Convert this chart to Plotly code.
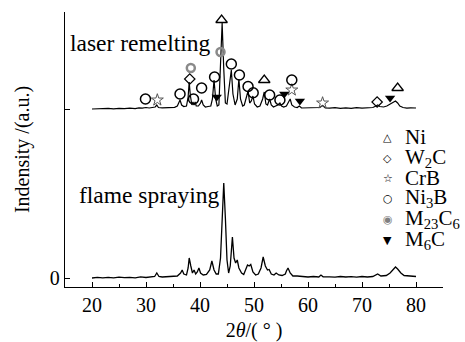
import plotly.graph_objects as go

# ---- data ----
flame_x = [20.0, 21.0, 22.0, 23.0, 24.0, 25.0, 26.0, 27.0, 28.0, 29.0, 30.0, 31.0, 31.6, 32.0, 32.4,
           33.0, 34.0, 35.0, 35.8, 36.4, 36.7, 37.0, 37.5, 37.8, 38.0, 38.3, 38.6, 38.9, 39.2, 39.5,
           39.8, 40.1, 40.6, 41.2, 41.8, 42.2, 42.6, 43.0, 43.4, 43.8, 44.1, 44.4, 44.7, 45.0, 45.3,
           45.6, 46.0, 46.3, 46.6, 46.9, 47.2, 47.7, 48.1, 48.5, 48.8, 49.1, 49.4, 49.8, 50.3, 50.8,
           51.3, 51.7, 52.1, 52.5, 52.8, 53.2, 53.7, 54.1, 54.6, 55.2, 55.8, 56.0, 56.3, 56.7, 57.2,
           58.0, 59.0, 60.0, 61.0, 62.0, 62.4, 62.8, 64.0, 65.0, 66.0, 67.0, 68.0, 69.0, 70.0, 71.0,
           72.0, 72.9, 73.5, 74.5, 75.2, 75.8, 76.2, 76.6, 77.2, 77.8, 78.5, 79.2, 80.0]
flame_y = [0.0, 0.6, 0.1, 0.7, 0.2, 0.9, 0.3, 0.7, 0.2, 1.1, 0.5, 1.1, 1.5, 5.0, 1.5,
           1.0, 1.3, 1.6, 2.0, 5.0, 8.0, 4.0, 3.0, 10.0, 20.0, 12.0, 5.0, 8.0, 4.0, 6.0,
           10.0, 5.0, 3.0, 3.5, 8.0, 17.0, 8.0, 4.0, 4.0, 20.0, 60.0, 95.0, 60.0, 18.0, 5.0,
           12.0, 41.0, 20.0, 15.0, 18.0, 10.0, 5.0, 3.5, 8.0, 13.0, 12.0, 13.5, 6.0, 3.0, 4.0,
           10.0, 21.0, 12.0, 8.0, 8.5, 4.0, 3.0, 5.0, 3.0, 2.5, 4.0, 7.0, 10.0, 5.0, 2.0,
           2.0, 1.5, 1.0, 1.5, 1.0, 3.0, 1.2, 1.2, 0.8, 1.5, 1.0, 1.3, 0.8, 1.5, 1.0,
           1.5, 4.0, 2.0, 2.5, 5.0, 9.0, 11.0, 9.0, 5.0, 2.5, 2.0, 1.5, 1.5]

laser_x = [20.0, 21.0, 22.0, 23.0, 24.0, 25.0, 26.0, 27.0, 28.0, 28.7, 29.3, 30.0, 30.6, 31.2, 31.7,
           32.0, 32.3, 33.0, 33.8, 34.6, 35.3, 35.8, 36.1, 36.3, 36.6, 37.0, 37.5, 37.8, 38.0, 38.2,
           38.5, 38.7, 38.9, 39.1, 39.3, 39.7, 40.1, 40.3, 40.6, 41.0, 41.5, 42.0, 42.3, 42.6, 42.9,
           43.2, 43.5, 43.8, 44.1, 44.4, 44.7, 45.0, 45.4, 45.8, 46.1, 46.5, 46.9, 47.2, 47.5, 47.9,
           48.2, 48.6, 48.9, 49.2, 49.5, 49.8, 50.1, 50.6, 51.1, 51.6, 51.9, 52.2, 52.5, 52.9, 53.2,
           53.6, 54.0, 54.4, 54.8, 55.1, 55.5, 56.0, 56.4, 56.7, 57.0, 57.5, 58.0, 58.4, 58.8, 59.5,
           60.5, 61.5, 62.2, 62.7, 63.2, 64.0, 65.0, 66.0, 67.0, 68.0, 69.0, 70.0, 71.0, 72.0, 72.6,
           72.9, 73.3, 74.0, 74.6, 75.2, 75.8, 76.2, 76.6, 77.0, 77.6, 78.3, 79.0, 80.0]
laser_y = [0.0, 0.4, 0.1, 0.6, 0.2, 0.7, 0.3, 0.9, 0.4, 1.2, 0.8, 1.5, 1.0, 1.2, 2.0,
           4.0, 1.5, 1.2, 1.4, 1.0, 1.6, 3.0, 7.0, 9.0, 4.0, 2.5, 3.0, 12.0, 27.0, 14.0,
           4.0, 7.0, 4.0, 7.0, 3.0, 3.0, 6.0, 9.0, 4.0, 2.0, 2.5, 3.0, 10.0, 29.0, 10.0,
           3.0, 4.0, 40.0, 86.0, 40.0, 6.0, 5.0, 20.0, 39.0, 15.0, 4.0, 10.0, 30.0, 10.0, 3.0,
           4.0, 12.0, 18.0, 6.0, 8.0, 13.0, 5.0, 2.0, 3.0, 10.0, 17.0, 5.0, 4.0, 10.0, 4.0,
           2.0, 3.0, 4.0, 6.0, 3.0, 2.0, 3.0, 7.0, 10.0, 4.0, 2.0, 1.5, 3.0, 1.0, 1.2,
           0.8, 1.3, 1.5, 3.5, 1.2, 0.8, 1.3, 0.6, 1.2, 0.7, 1.4, 0.8, 1.3, 1.5, 3.0,
           4.0, 2.5, 2.0, 3.0, 5.0, 7.0, 8.0, 6.0, 3.0, 1.5, 0.8, 1.2, 1.0]

LASER_OFFSET = 169

# phase markers on the laser-remelting pattern (2theta, plotted height)
ni_x = [44.0, 51.9, 76.6]
ni_y = [258, 198, 190]
w2c_x = [38.1, 72.8]
w2c_y = [199, 176]
crb_x = [32.1, 57.0, 62.7]
crb_y = [178, 188, 175]
ni3b_x = [29.9, 36.3, 38.8, 40.3, 42.7, 45.8, 47.3, 48.9, 49.85, 52.9, 54.8, 57.0]
ni3b_y = [179, 184, 179, 190, 201, 214, 203, 191.5, 185.3, 183, 178, 198]
m23c6_x = [38.3, 43.8]
m23c6_y = [210, 226]
m6c_x = [43.1, 55.6, 58.5, 75.2]
m6c_y = [181, 184, 177, 180]

x_ticks = [20, 30, 40, 50, 60, 70, 80]
y_ticks = [0, LASER_OFFSET]
y_ticklabels = ["0", " "]

legend_names = ["Ni", "W<sub>2</sub>C", "CrB", "Ni<sub>3</sub>B", "M<sub>23</sub>C<sub>6</sub>", "M<sub>6</sub>C"]
legend_glyphs = ["△", "◇", "☆", "○", "◉", "▼"]
legend_glyph_colors = ["black", "black", "black", "black", "#808080", "black"]

FONT = "Liberation Serif"

fig = go.Figure()
fig.add_trace(go.Scatter(x=flame_x, y=flame_y, mode="lines",
                         line=dict(color="black", width=1.3), showlegend=False))
fig.add_trace(go.Scatter(x=laser_x, y=[v + LASER_OFFSET for v in laser_y], mode="lines",
                         line=dict(color="black", width=1.2), showlegend=False))

mk = dict(mode="markers", showlegend=False)
fig.add_trace(go.Scatter(x=ni_x, y=ni_y, marker=dict(symbol="triangle-up-open", size=10,
                         color="black", line=dict(width=1.3)), **mk))
fig.add_trace(go.Scatter(x=w2c_x, y=w2c_y, marker=dict(symbol="diamond-open", size=8,
                         color="black", line=dict(width=1.2)), **mk))
fig.add_trace(go.Scatter(x=crb_x, y=crb_y, marker=dict(symbol="star-open", size=9,
                         color="#555555", line=dict(width=1)), **mk))
fig.add_trace(go.Scatter(x=ni3b_x, y=ni3b_y, marker=dict(symbol="circle-open", size=10,
                         color="black", line=dict(width=1.5)), **mk))
fig.add_trace(go.Scatter(x=m23c6_x, y=m23c6_y, marker=dict(symbol="circle-open", size=8,
                         color="#8a8a8a", line=dict(width=2.5)), **mk))
fig.add_trace(go.Scatter(x=m6c_x, y=m6c_y, marker=dict(symbol="triangle-down", size=9,
                         color="black"), **mk))

annotations = [
    dict(x=15.6, y=235, xref="x", yref="y", text="laser remelting", showarrow=False,
         xanchor="left", yanchor="middle", font=dict(family=FONT, size=23.5, color="black")),
    dict(x=17.2, y=83, xref="x", yref="y", text="flame spraying", showarrow=False,
         xanchor="left", yanchor="middle", font=dict(family=FONT, size=23.5, color="black")),
]
legend_y = [141, 120, 100, 80, 59, 38]
for name, glyph, gc, ly in zip(legend_names, legend_glyphs, legend_glyph_colors, legend_y):
    annotations.append(dict(x=74.8, y=ly, xref="x", yref="y", text=glyph, showarrow=False,
                            xanchor="center", yanchor="middle",
                            font=dict(family="DejaVu Sans", size=11, color=gc)))
    annotations.append(dict(x=77.6, y=ly, xref="x", yref="y", text=name, showarrow=False,
                            xanchor="left", yanchor="middle",
                            font=dict(family=FONT, size=21, color="black")))

fig.update_layout(
    width=465, height=342,
    margin=dict(l=65, r=22, t=12, b=55, autoexpand=False),
    paper_bgcolor="white", plot_bgcolor="white",
    font=dict(family=FONT, size=20, color="black"),
    annotations=annotations,
    showlegend=False,
    xaxis=dict(range=[15, 85], tickvals=x_ticks, ticks="inside", ticklen=5, tickwidth=1,
               tickcolor="black", showline=True, linecolor="black", linewidth=1.3,
               showgrid=False, zeroline=False, automargin=False,
               minor=dict(dtick=5, tick0=0, ticks="inside", ticklen=3, tickcolor="black"),
               title=dict(text="2<i>θ</i>/( ° )", font=dict(family=FONT, size=20), standoff=14)),
    yaxis=dict(range=[-9, 266], tickvals=y_ticks, ticktext=y_ticklabels, ticks="inside",
               ticklen=5, tickcolor="black", showline=True, linecolor="black", linewidth=1.3,
               showgrid=False, zeroline=False, automargin=False,
               title=dict(text="Indensity /(a.u.)", font=dict(family=FONT, size=20), standoff=14)),
)

fig.write_html("out.html", config=dict(displayModeBar=False),
               post_script="document.body.style.margin='0';document.body.style.overflow='hidden';")
